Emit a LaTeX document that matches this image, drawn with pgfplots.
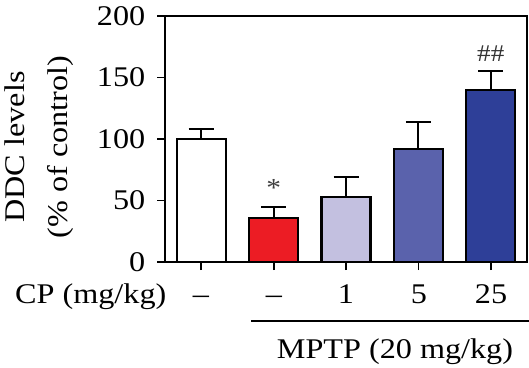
\documentclass[border=0pt]{standalone}
\usepackage{pgfplots}
\pgfplotsset{compat=1.18}
\usepackage{fontspec}
\setmainfont{Liberation Serif}[FakeStretch=1.13]
\definecolor{cred}{RGB}{236,28,36}
\definecolor{clav}{RGB}{195,192,224}
\definecolor{cmid}{RGB}{90,98,172}
\definecolor{cdark}{RGB}{46,63,152}
\begin{document}
\begin{tikzpicture}[x=1pt,y=1pt]
\fontsize{28.5}{34}\selectfont
\begin{axis}[
  at={(165pt,105pt)}, anchor=south west,
  scale only axis, width=362pt, height=246pt,
  xmin=-0.5, xmax=4.5, ymin=0, ymax=200,
  ytick={0,50,100,150,200},
  xtick={0,1,2,3,4}, xticklabels={},
  xtick pos=bottom, ytick pos=left,
  tick align=outside, major tick length=8pt,
  tick style={line width=1.8pt, black},
  axis line style={line width=1.8pt},
  /pgf/number format/assume math mode=true,
  ticklabel style={font=\fontsize{28.5}{34}\selectfont},
  yticklabel style={xshift=-2pt},
  clip=false,
  bar width=49pt,
  every axis plot/.append style={line width=2.2pt},
  error bars/y dir=plus, error bars/y explicit,
  error bars/error bar style={line width=2pt, black},
  error bars/error mark options={rotate=90, mark size=12.5pt, line width=2pt, black},
]
\addplot[ybar, fill=white, draw=black] coordinates {(0,100) +- (0,8)};
\addplot[ybar, fill=cred, draw=black] coordinates {(1,36) +- (0,9)};
\addplot[ybar, fill=clav, draw=black] coordinates {(2,53) +- (0,16.5)};
\addplot[ybar, fill=cmid, draw=black] coordinates {(3,92) +- (0,22)};
\addplot[ybar, fill=cdark, draw=black] coordinates {(4,140) +- (0,15)};
\node[font=\fontsize{26}{30}\selectfont, text=black!75] at (axis cs:1,60) {*};
\node[font=\fontsize{24}{28}\selectfont, text=black!80] at (axis cs:4,169) {\#\#};
\end{axis}
\node[rotate=90, anchor=base] at (24,220) {DDC levels};
\node[rotate=90, anchor=base] at (67,220) {(\% of control)};
\node[anchor=base west, inner sep=0pt] at (15,64) {CP (mg/kg)};
\node[anchor=base] at (201,64) {–};
\node[anchor=base] at (274,64) {–};
\node[anchor=base] at (346,64) {1};
\node[anchor=base] at (419,64) {5};
\node[anchor=base] at (491,64) {25};
\draw[line width=1.5pt] (251,46) -- (529,46);
\node[anchor=base] at (395,9) {MPTP (20 mg/kg)};
\pgfresetboundingbox
\path (0,0) rectangle (529,367);
\end{tikzpicture}
\end{document}
